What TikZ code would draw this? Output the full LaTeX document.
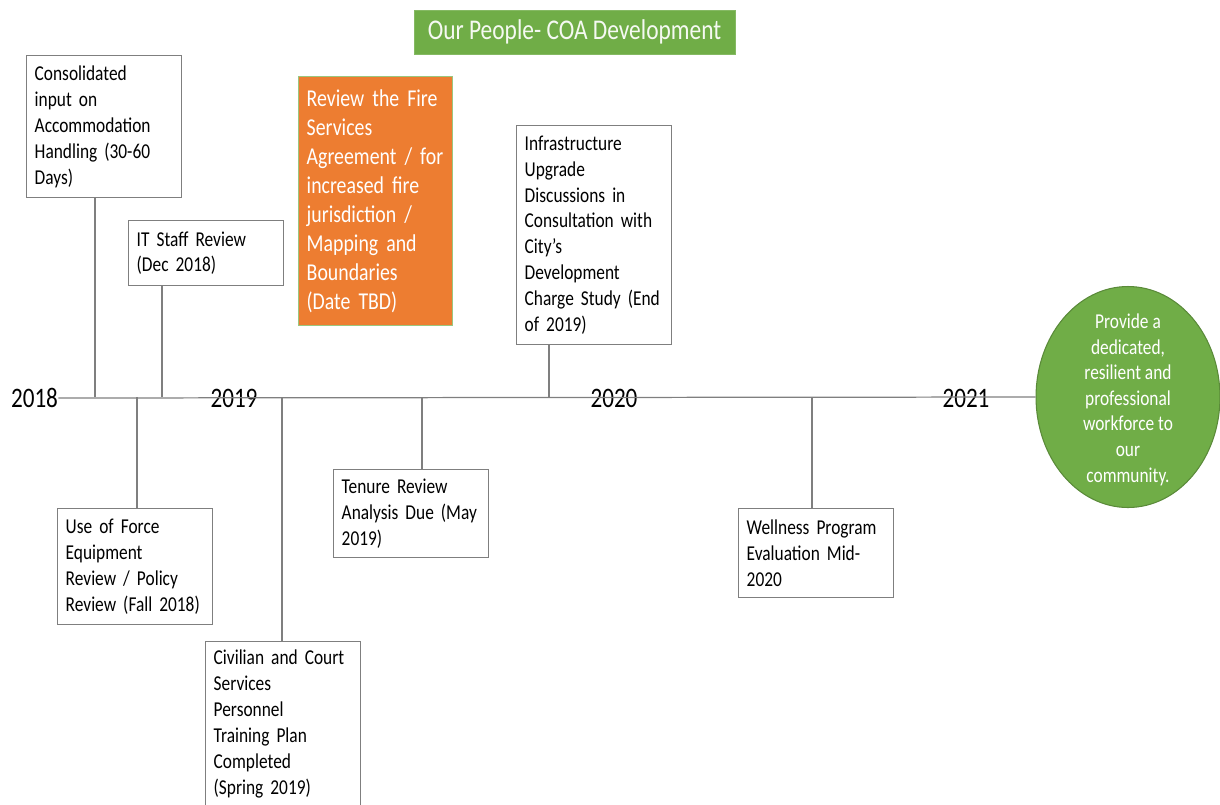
\documentclass[tikz,border=0pt]{standalone}
\usepackage{fontspec}
\setmainfont{Carlito}[FakeStretch=0.82]
\usetikzlibrary{shapes.geometric}

\definecolor{linegray}{HTML}{7F7F7F}
\definecolor{peoplegreen}{HTML}{70AD47}
\definecolor{firefill}{HTML}{ED7D31}

% one unit = one pixel of the layout grid
\newcommand{\pxu}{0.567pt}

\begin{document}
\begin{tikzpicture}[x=\pxu, y=-\pxu,
    every node/.style={font=\fontsize{12}{14.7}\selectfont},
    milestone/.style={draw=linegray, line width=0.7pt, fill=white, anchor=north west,
      inner xsep=4.6pt, inner ysep=1pt, text width=78.8pt, align=left},
    year/.style={font=\fontsize{16}{18}\selectfont, inner sep=0pt},
    stem/.style={draw=linegray, line width=0.7pt}]
  \useasboundingbox (0,0) rectangle (1220,804);

  % heading
  \node[fill=peoplegreen, draw=peoplegreen!85!white, text=white!93!peoplegreen,
    minimum width=182pt, minimum height=25pt,
    font=\fontsize{16.2}{18}\selectfont] (title) at (574.5,32)
    {\raisebox{-1.3pt}{Our People- COA Development}};

  % years along the line
  \node[year] (y2018) at (34.5,398) {2018};
  \node[year] (y2019) at (234,398) {2019};
  \node[year] (y2020) at (614,398) {2020};
  \node[year] (y2021) at (966,398) {2021};

  % end goal
  \node[ellipse, fill=peoplegreen, draw=peoplegreen!80!black, line width=0.6pt,
    minimum width=104.3pt, minimum height=125.3pt,
    label={[text=white, align=center, yshift=-1.5pt,
      font=\fontsize{12}{14.5}\selectfont]center:
      Provide a\\dedicated,\\resilient and\\professional\\workforce to\\our\\community.}]
    (goal) at (1128,397) {};

  \draw[stem] (y2018.east) -- (goal.west);

  % milestones above the line
  \node[milestone, minimum height=80.5pt] (cons) at (26,55)
    {Consolidated\\input on\\Accommodation\\Handling (30-60\\Days)};
  \node[milestone, minimum height=36.9pt] (itstaff) at (128,220)
    {IT Staff Review\\(Dec 2018)};
  \node[milestone, fill=firefill, draw=peoplegreen!70!white, text=white,
    minimum height=141.2pt, inner xsep=4.6pt, text width=78.1pt,
    font=\fontsize{13.7}{16.4}\selectfont] (fire) at (298,76)
    {Review the Fire\\Services\\Agreement / for\\increased fire\\jurisdiction /\\Mapping and\\Boundaries\\(Date TBD)};
  \node[milestone, minimum height=124.2pt] (infra) at (516,125)
    {Infrastructure\\Upgrade\\Discussions in\\Consultation with\\City’s\\Development\\Charge Study (End\\of 2019)};

  % milestones below the line
  \node[milestone, minimum height=65.8pt] (force) at (57,508)
    {Use of Force\\Equipment\\Review / Policy\\Review (Fall 2018)};
  \node[milestone, minimum height=93.6pt] (civil) at (205,641)
    {Civilian and Court\\Services\\Personnel\\Training Plan\\Completed\\(Spring 2019)};
  \node[milestone, minimum height=49.9pt] (tenure) at (333,469)
    {Tenure Review\\Analysis Due (May\\2019)};
  \node[milestone, minimum height=50.5pt] (well) at (738,508)
    {Wellness Program\\Evaluation Mid-\\2020};

  % stems from the line to each box
  \foreach \x/\ms in {95/cons, 162/itstaff, 549/infra}{
    \coordinate (t-\ms) at (\x,397);
    \draw[stem] (t-\ms) -- (t-\ms |- \ms.south);
  }
  \foreach \x/\ms in {137/force, 282/civil, 422/tenure, 812/well}{
    \coordinate (t-\ms) at (\x,397);
    \draw[stem] (t-\ms) -- (t-\ms |- \ms.north);
  }
\end{tikzpicture}
\end{document}
